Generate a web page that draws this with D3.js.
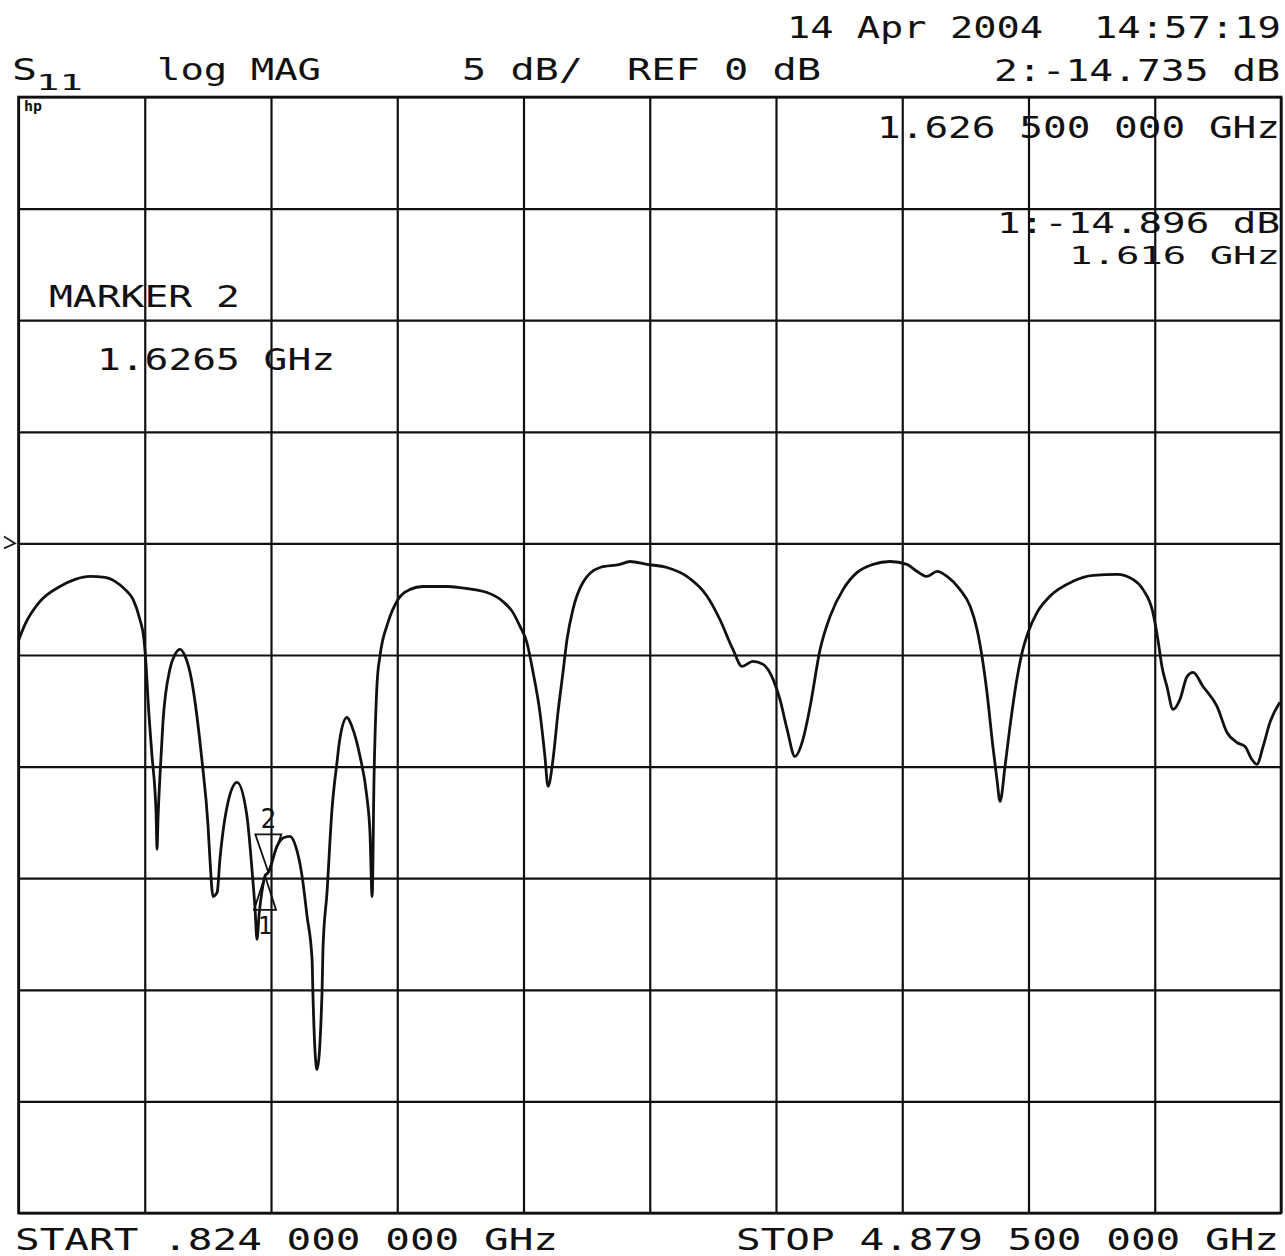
<!DOCTYPE html>
<html>
<head>
<meta charset="utf-8">
<script src="https://cdn.jsdelivr.net/npm/d3@7/dist/d3.min.js"></script>
<style>
  html, body { margin: 0; padding: 0; background: #fff; }
  svg { display: block; }
  text { font-family: "DejaVu Sans Mono", "Liberation Mono", monospace; fill: #111; }
</style>
</head>
<body>
<svg id="chart" width="1285" height="1256"></svg>
<script>
// ---------------- DATA ----------------
const startGHz = 0.824;
const stopGHz = 4.8795;
const refDB = 0;
const dbPerDiv = 5;
const refDivFromTop = 4;   // reference line position (divisions below top)

const freqGHz = [
  0.824, 0.829, 0.845, 0.893, 0.957, 1.006, 1.054, 1.102, 1.134, 1.166,
  1.192, 1.214, 1.227, 1.234, 1.240, 1.253, 1.262, 1.266, 1.269, 1.272,
  1.279, 1.288, 1.311, 1.327, 1.343, 1.359, 1.375, 1.413, 1.433, 1.439,
  1.449, 1.462, 1.471, 1.497, 1.526, 1.558, 1.574, 1.584, 1.590, 1.597,
  1.606, 1.616, 1.627, 1.654, 1.674, 1.696, 1.715, 1.735, 1.751, 1.767,
  1.770, 1.783, 1.799, 1.802, 1.815, 1.831, 1.847, 1.856, 1.879, 1.895,
  1.921, 1.943, 1.953, 1.960, 1.966, 1.976, 1.985, 2.011, 2.043, 2.082,
  2.123, 2.200, 2.242, 2.329, 2.380, 2.412, 2.435, 2.457, 2.477, 2.499,
  2.515, 2.525, 2.541, 2.557, 2.573, 2.586, 2.605, 2.637, 2.692, 2.756,
  2.788, 2.843, 2.907, 2.971, 3.036, 3.077, 3.119, 3.148, 3.183, 3.216,
  3.248, 3.270, 3.293, 3.318, 3.344, 3.367, 3.399, 3.431, 3.473, 3.518,
  3.569, 3.624, 3.678, 3.710, 3.742, 3.775, 3.807, 3.848, 3.881, 3.903,
  3.919, 3.935, 3.954, 3.967, 3.977, 3.993, 4.009, 4.031, 4.048, 4.067,
  4.096, 4.137, 4.211, 4.276, 4.353, 4.404, 4.436, 4.468, 4.484, 4.497,
  4.513, 4.533, 4.555, 4.578, 4.597, 4.629, 4.674, 4.706, 4.738, 4.764,
  4.786, 4.802, 4.822, 4.844, 4.876
];

const s11dB = [
  -4.35, -4.17, -3.63, -2.60, -1.93, -1.61, -1.48, -1.52, -1.70, -2.06,
  -2.51, -3.41, -4.30, -5.51, -6.99, -9.54, -11.0, -12.1, -13.71, -12.4,
  -10.26, -8.02, -5.60, -4.97, -4.75, -5.05, -5.78, -9.68, -12.68, -14.16,
  -15.82, -15.64, -14.16, -11.60, -10.71, -12.23, -14.61, -16.40, -17.74, -16.6,
  -15.6, -14.896, -14.735, -13.58, -13.2, -13.13, -13.6, -14.92, -16.71, -18.64,
  -20.30, -23.57, -20.12, -18.19, -15.64, -11.92, -9.81, -8.78, -7.80, -8.2,
  -9.54, -11.34, -12.95, -15.82, -10.57, -6.23, -5.06, -3.54, -2.51, -2.06,
  -1.93, -1.93, -1.98, -2.20, -2.60, -3.09, -3.72, -4.44, -5.78, -7.57,
  -9.54, -10.89, -9.68, -7.57, -5.78, -4.30, -2.96, -1.75, -1.08, -0.94,
  -0.81, -0.94, -1.08, -1.48, -2.37, -3.41, -4.75, -5.51, -5.29, -5.42,
  -6.09, -6.99, -8.33, -9.54, -8.78, -7.30, -4.75, -3.27, -2.06, -1.30,
  -0.94, -0.81, -0.94, -1.25, -1.48, -1.25, -1.48, -2.06, -2.82, -3.85,
  -5.06, -6.68, -9.10, -10.57, -11.56, -9.99, -8.20, -6.09, -4.88, -3.99,
  -3.09, -2.37, -1.70, -1.43, -1.39, -1.61, -2.06, -3.09, -4.30, -5.51,
  -6.41, -7.44, -6.99, -5.96, -5.78, -6.41, -7.30, -8.47, -8.92, -9.10,
  -9.68, -9.90, -9.10, -8.02, -7.12
];

// markers
const markerIds = ["1", "2"];
const markerGHz = [1.616, 1.6265];
const markerDB = [-14.896, -14.735];

// text labels
const headerDate = "14 Apr 2004";
const headerTime = "14:57:19";
const paramMain = "S";
const paramSub = "11";
const formatLabel = "log MAG";
const scaleLabel = "5 dB/";
const refLabel = "REF 0 dB";
const activeMarkerValue = "2:-14.735 dB";
const activeMarkerFreq = "1.626 500 000 GHz";
const marker1Value = "1:-14.896 dB";
const marker1Freq = "1.616 GHz";
const markerTitle = "MARKER 2";
const markerTitleFreq = "1.6265 GHz";
const startLabel = "START  .824 000 000 GHz";
const stopLabel = "STOP  4.879 500 000 GHz";
const logoLabel = "hp";

// ---------------- DRAW ----------------
const svg = d3.select("#chart");
const L = 18.5, R = 1281, T = 97, B = 1213;

const x = d3.scaleLinear().domain([startGHz, stopGHz]).range([L, R]);
const topDB = refDB + refDivFromTop * dbPerDiv;
const botDB = topDB - 10 * dbPerDiv;
const y = d3.scaleLinear().domain([botDB, topDB]).range([B, T]);

const xGrid = d3.range(11).map(i => startGHz + i * (stopGHz - startGHz) / 10);
const yGrid = d3.range(11).map(i => botDB + i * dbPerDiv);

// vertical grid via axis
const gx = svg.append("g").attr("transform", `translate(0,${B})`)
  .call(d3.axisBottom(x).tickValues(xGrid).tickSize(-(B - T)).tickFormat(""));
gx.select(".domain").remove();
gx.selectAll(".tick line").attr("stroke", "#111").attr("stroke-width", 2.2);

// horizontal grid via axis
const gy = svg.append("g").attr("transform", `translate(${L},0)`)
  .call(d3.axisLeft(y).tickValues(yGrid).tickSize(-(R - L)).tickFormat(""));
gy.select(".domain").remove();
gy.selectAll(".tick line").attr("stroke", "#111").attr("stroke-width", 2.2);

// border
svg.append("rect").attr("x", L).attr("y", T).attr("width", R - L).attr("height", B - T)
  .attr("fill", "none").attr("stroke", "#111").attr("stroke-width", 2.6);

// reference position marker at left
const yr = y(refDB);
svg.append("path")
  .attr("d", `M4,${yr - 7} L15,${yr} L4,${yr + 5}`)
  .attr("fill", "none").attr("stroke", "#222").attr("stroke-width", 1.8);

// trace
const pts = freqGHz.map((f, i) => [f, s11dB[i]]);
svg.append("path")
  .datum(pts)
  .attr("d", d3.line().curve(d3.curveMonotoneX).x(d => x(d[0])).y(d => y(d[1])))
  .attr("fill", "none").attr("stroke", "#111").attr("stroke-width", 2.8)
  .attr("stroke-linejoin", "round");

// helper for wide plotter style text
function label(str, x0, x1, base, size, weight) {
  svg.append("text")
    .attr("x", x0).attr("y", base)
    .attr("font-size", size)
    .attr("font-weight", weight || "normal")
    .attr("textLength", x1 - x0)
    .attr("lengthAdjust", "spacingAndGlyphs")
    .text(str);
}

label(headerDate, 787, 1043, 38, 30);
label(headerTime, 1094, 1281, 38, 30);
label(paramMain, 12, 37, 80, 31);
label(paramSub, 36, 83, 90, 21);
label(formatLabel, 157, 321, 80, 30);
label(scaleLabel, 462, 583, 80, 30);
label(refLabel, 627, 821, 80, 30);
label(activeMarkerValue, 994, 1280, 81, 30);
label(activeMarkerFreq, 877, 1280, 138, 30);
label(marker1Value, 997, 1280, 233, 29);
label(marker1Freq, 1069, 1280, 264, 24);
label(markerTitle, 49, 240, 307, 30);
label(markerTitleFreq, 97, 335, 370, 30);
label(startLabel, 15, 558, 1250, 30);
label(stopLabel, 736, 1279, 1250, 30);
label(logoLabel, 24, 42, 111, 14, "bold");

// marker symbols
markerIds.forEach((id, i) => {
  const mx = x(markerGHz[i]), my = y(markerDB[i]);
  if (id === "2") {
    // active marker: downward triangle, number above
    svg.append("path")
      .attr("d", `M${mx},${my} L${mx - 13},${my - 38} L${mx + 13},${my - 38} Z`)
      .attr("fill", "none").attr("stroke", "#111").attr("stroke-width", 1.8);
    svg.append("text").attr("x", mx).attr("y", my - 44)
      .attr("text-anchor", "middle").attr("font-size", 26).text(id);
  } else {
    // inactive marker: upward triangle, number below
    svg.append("path")
      .attr("d", `M${mx},${my} L${mx - 11},${my + 34} L${mx + 11},${my + 34} Z`)
      .attr("fill", "none").attr("stroke", "#111").attr("stroke-width", 1.8);
    svg.append("text").attr("x", mx).attr("y", my + 58)
      .attr("text-anchor", "middle").attr("font-size", 24).text(id);
  }
});
</script>
</body>
</html>
